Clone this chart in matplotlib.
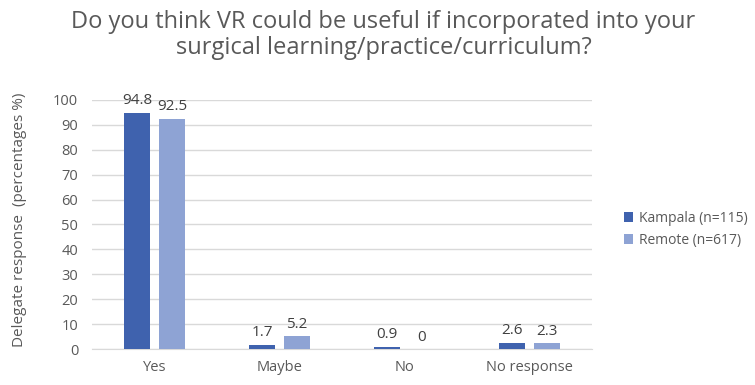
import matplotlib
matplotlib.use("Agg")
import matplotlib.pyplot as plt
import numpy as np

categories = ["Yes", "Maybe", "No", "No response"]
kampala = [94.8, 1.7, 0.9, 2.6]
remote = [92.5, 5.2, 0.0, 2.3]
series_names = ["Kampala (n=115)", "Remote (n=617)"]
yticks = list(range(0, 101, 10))

plt.rcParams['font.family'] = ['Open Sans', 'DejaVu Sans']
txt = '#404040'
tick_c = '#595959'

fig = plt.figure(figsize=(7.55, 3.85), dpi=100)
ax = fig.add_axes([0.122, 0.0935, 0.662, 0.647])

x = np.arange(len(categories))
w = 0.21
off = 0.14
c1 = '#3F62AE'
c2 = '#8EA3D4'
b1 = ax.bar(x - off, kampala, w, color=c1, label=series_names[0], zorder=3)
b2 = ax.bar(x + off, remote, w, color=c2, label=series_names[1], zorder=3)
for bars, vals in ((b1, kampala), (b2, remote)):
    for b, v in zip(bars, vals):
        ax.text(b.get_x() + b.get_width() / 2, v + 1.8, f"{v:g}", ha='center', va='bottom',
                fontsize=11, color=txt)

ax.set_xlim(-0.5, len(categories) - 0.5)
ax.set_ylim(0, 100)
ax.set_yticks(yticks)
ax.set_xticks(x)
ax.set_xticklabels(categories)
ax.grid(axis='y', color='#D9D9D9', linewidth=1, zorder=0)
for s in ['top', 'right', 'left']:
    ax.spines[s].set_visible(False)
ax.spines['bottom'].set_color('#D9D9D9')
ax.tick_params(axis='both', length=0, labelsize=10.5, colors=tick_c, pad=8)
ax.tick_params(axis='y', pad=10)
ax.set_ylabel("Delegate response  (percentages %)", fontsize=11, color=tick_c)
ax.yaxis.set_label_coords(-0.13, 0.52)

fig.suptitle("Do you think VR could be useful if incorporated into your\nsurgical learning/practice/curriculum?",
             x=0.508, y=0.975, fontsize=17, color=tick_c, linespacing=1.15)

ax.legend(loc='center left', bbox_to_anchor=(0.826, 0.405), bbox_transform=fig.transFigure,
          frameon=False, fontsize=10, labelcolor=tick_c, handlelength=0.7, handleheight=0.7,
          handletextpad=0.4, labelspacing=0.5, borderpad=0, borderaxespad=0)

fig.savefig("out.png", dpi=100)
